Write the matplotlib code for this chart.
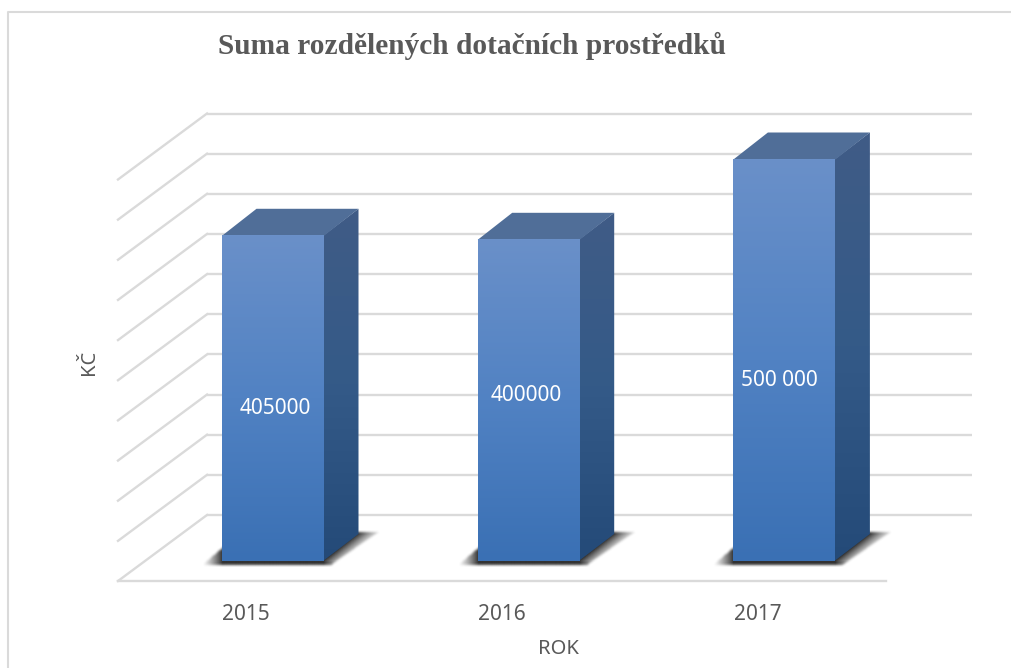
import numpy as np
import matplotlib
matplotlib.use("Agg")
import matplotlib.pyplot as plt
from matplotlib.colors import LinearSegmentedColormap
from matplotlib.patches import Polygon
from matplotlib.path import Path

years = ["2015", "2016", "2017"]
amounts = [405000, 400000, 500000]
amount_labels = ["405000", "400000", "500 000"]
grid_values = [0, 50000, 100000, 150000, 200000, 250000, 300000, 350000, 400000, 450000, 500000]

title = "Suma rozdělených dotačních prostředků"
x_title = "ROK"
y_title = "KČ"

W, H = 1012, 668
X0, X_STEP = 273.0, 255.7      # pixel of first category, pixels per category
Y0, Y_STEP = 561.0, 401.5 / 500000  # pixel of value 0, pixels per unit

# bar size and 3d offsets, converted from pixels to data units
BAR_W = 102.0 / X_STEP
DX = 34.5 / X_STEP
DY = 27.0 / Y_STEP
WALL_X = (207.0 - X0) / X_STEP
FRONT_X = (118.0 - X0) / X_STEP
WALL_END = (972.0 - X0) / X_STEP
FLOOR_END = (886.0 - X0) / X_STEP
WALL_DY = (Y0 - 515.0) / Y_STEP
FRONT_DY = (Y0 - 581.0) / Y_STEP

GRID = "#dadada"
TEXT = "#595959"

front_cmap = LinearSegmentedColormap.from_list("front", ["#6a90c9", "#5182c3", "#3a70b4"])
side_cmap = LinearSegmentedColormap.from_list("side", ["#405c86", "#345a88", "#244a78"])

plt.rcParams["font.family"] = ["Noto Sans", "DejaVu Sans"]
fig = plt.figure(figsize=(W / 100, H / 100), dpi=100)
ax = fig.add_axes([0, 0, 1, 1])
xlim = (-X0 / X_STEP, (W - X0) / X_STEP)
ylim = ((Y0 - H) / Y_STEP, Y0 / Y_STEP)
ax.axis("off")

# outer frame, top and left run off the picture edges
ax.plot([(8 - X0) / X_STEP, (8 - X0) / X_STEP, (W - X0) / X_STEP],
        [(Y0 - H) / Y_STEP, (Y0 - 12) / Y_STEP, (Y0 - 12) / Y_STEP], color=GRID, lw=1.5)

# back wall and side wall grid
for v in grid_values:
    y = v + WALL_DY
    ax.plot([WALL_X, WALL_END], [y, y], color=GRID, lw=1.7, solid_capstyle="butt", zorder=1)
    y_left = v + FRONT_DY
    ax.plot([FRONT_X, WALL_X], [y_left, y], color=GRID, lw=1.7, zorder=1)
ax.plot([FRONT_X, FLOOR_END], [FRONT_DY, FRONT_DY], color=GRID, lw=1.7, zorder=1)


def draw_shadow(cx):
    # blurred shape on the floor, fading out towards both tips
    left = cx - BAR_W / 2
    right = cx + BAR_W / 2
    pts = np.array([[left - 20 / X_STEP, -4 / Y_STEP], [left + 4 / X_STEP, 16 / Y_STEP],
                    [right + DX, DY + 2 / Y_STEP], [right + DX + 22 / X_STEP, DY + 2 / Y_STEP],
                    [right + 8 / X_STEP, -4 / Y_STEP]])
    gx = np.arange(left - 40 / X_STEP, right + DX + 40 / X_STEP, 1 / X_STEP)
    gy = np.arange(-20 / Y_STEP, DY + 20 / Y_STEP, 1 / Y_STEP)
    xx, yy = np.meshgrid(gx, gy)
    mask = Path(pts).contains_points(np.c_[xx.ravel(), yy.ravel()]).reshape(xx.shape).astype(float)
    kernel = np.ones(3) / 3
    for _ in range(2):
        mask = np.apply_along_axis(lambda r: np.convolve(r, kernel, mode="same"), 0, mask)
        mask = np.apply_along_axis(lambda r: np.convolve(r, kernel, mode="same"), 1, mask)
    # distance in pixels from the bar edges
    d_left = (left - xx) * X_STEP
    d_right = (xx - (right + DX * np.clip(yy / DY, 0, 1))) * X_STEP
    fade = np.clip(1 - d_left / 21, 0, 1) * np.clip(1 - d_right / 26, 0, 1)
    rgba = np.zeros(mask.shape + (4,))
    rgba[..., :3] = 0.2
    rgba[..., 3] = mask * fade ** 1.3
    ax.imshow(rgba, extent=(gx[0], gx[-1], gy[0], gy[-1]), origin="lower", aspect="auto", zorder=2)


def draw_bar(cx, value):
    left = cx - BAR_W / 2
    right = cx + BAR_W / 2
    ramp = np.linspace(0, 1, 256).reshape(-1, 1)
    seam = 1 / X_STEP

    # side face, gradient clipped to the parallelogram, reaches under the front face
    side = Polygon([(right - seam, 0), (right + DX, DY), (right + DX, value + DY), (right - seam, value)],
                   closed=True, facecolor="none", edgecolor="none", zorder=3)
    ax.add_patch(side)
    im = ax.imshow(ramp, cmap=side_cmap, extent=(right - seam, right + DX, 0, value + DY),
                   aspect="auto", zorder=3)
    im.set_clip_path(side)

    # top face
    ax.add_patch(Polygon([(left, value), (right, value), (right + DX, value + DY), (left + DX, value + DY)],
                         closed=True, facecolor="#506e98", edgecolor="none", zorder=3))

    # front face
    ax.imshow(ramp, cmap=front_cmap, extent=(left, right, 0, value), aspect="auto", zorder=4)


for i, value in enumerate(amounts):
    draw_shadow(i)
    draw_bar(i, value)

# value labels sit on the bars, a little away from the centre
label_dx = [2, -2, -5]
label_dy = [10.5, -4.5, 20.5]
for i, value in enumerate(amounts):
    ax.text(i + label_dx[i] / X_STEP, value / 2 - label_dy[i] / Y_STEP, amount_labels[i], color="white",
            fontsize=15, ha="center", va="center", zorder=5)

for i, year in enumerate(years):
    ax.text(i - 27 / X_STEP, (Y0 - 615) / Y_STEP, year, color=TEXT, fontsize=15, ha="center", va="center")

ax.text((558 - X0) / X_STEP, (Y0 - 648.5) / Y_STEP, x_title, color=TEXT, fontsize=14.5, ha="center", va="center")
ax.text((89 - X0) / X_STEP, (Y0 - 362) / Y_STEP, y_title, color=TEXT, fontsize=14.5, ha="center", va="center",
        rotation=90)
ax.text((472.5 - X0) / X_STEP, (Y0 - 45.5) / Y_STEP, title, color=TEXT, fontsize=21.2, fontweight="bold",
        family=["Liberation Serif"], ha="center", va="center")

ax.set_xlim(*xlim)
ax.set_ylim(*ylim)
fig.savefig("out.png", dpi=100)
